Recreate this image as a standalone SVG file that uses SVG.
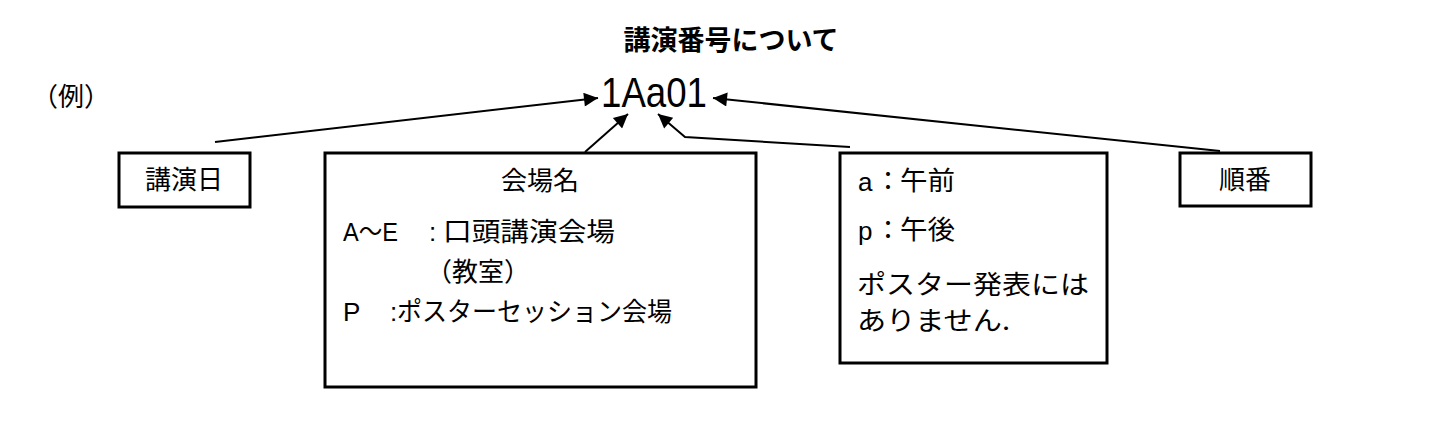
<svg xmlns="http://www.w3.org/2000/svg" width="1452" height="444" viewBox="0 0 1452 444">
  <style>
    .box { fill: #fff; stroke: #000; stroke-width: 3; }
    .jp { font-family: "Noto Sans CJK JP", sans-serif; font-size: 26px; fill: #000; }
    .en { font-family: "Liberation Sans", "Noto Sans CJK JP", sans-serif; font-size: 26px; fill: #000; }
    .conn { fill: none; stroke: #000; stroke-width: 2; }
  </style>
  <defs>
    <marker id="ah" viewBox="0 0 10 10" refX="10" refY="5" markerWidth="18" markerHeight="14" markerUnits="userSpaceOnUse" orient="auto">
      <path d="M0,0 L10,5 L0,10 z" fill="#000"/>
    </marker>
  </defs>
  <rect x="0" y="0" width="1452" height="444" fill="#fff"/>

  <text x="731" y="50" text-anchor="middle" class="jp" style="font-size:27px;font-weight:bold">講演番号について</text>
  <text x="32" y="106" class="jp">（例）</text>
  <text x="601" y="107" class="en" style="font-size:43px" textLength="106" lengthAdjust="spacingAndGlyphs">1Aa01</text>

  <g id="connectors">
    <path class="conn" d="M215,142 L598,98" marker-end="url(#ah)"/>
    <path class="conn" d="M585,152 L628,114" marker-end="url(#ah)"/>
    <path class="conn" d="M850,147 L685,137 L658,114" marker-end="url(#ah)"/>
    <path class="conn" d="M1220,151 L713,98" marker-end="url(#ah)"/>
  </g>

  <g id="node-date">
    <rect class="box" x="119" y="153" width="131" height="54"/>
    <text x="184" y="189" text-anchor="middle" class="jp">講演日</text>
  </g>

  <g id="node-venue">
    <rect class="box" x="325" y="153" width="431" height="234"/>
    <text x="540" y="190" text-anchor="middle" class="jp">会場名</text>
    <text x="343" y="241" class="en" textLength="55" lengthAdjust="spacingAndGlyphs">A～E</text>
    <text x="429" y="241" class="en">:</text>
    <text x="443" y="241" class="jp" textLength="172" lengthAdjust="spacingAndGlyphs">口頭講演会場</text>
    <text x="426" y="281" class="jp" textLength="104" lengthAdjust="spacingAndGlyphs">（教室）</text>
    <text x="343" y="321" class="en">P</text>
    <text x="390" y="321" class="en">:</text>
    <text x="397" y="321" class="jp" textLength="275" lengthAdjust="spacingAndGlyphs">ポスターセッション会場</text>
  </g>

  <g id="node-ampm">
    <rect class="box" x="840" y="153" width="267" height="210"/>
    <text x="858" y="191" class="en">a</text>
    <text x="875" y="190" class="jp">：</text>
    <text x="900" y="190" class="jp" textLength="55" lengthAdjust="spacingAndGlyphs">午前</text>
    <text x="858" y="240" class="en">p</text>
    <text x="875" y="239" class="jp">：</text>
    <text x="900" y="239" class="jp" textLength="55" lengthAdjust="spacingAndGlyphs">午後</text>
    <text x="857" y="294" class="jp" textLength="232" lengthAdjust="spacingAndGlyphs">ポスター発表には</text>
    <text x="857" y="330" class="jp" textLength="153" lengthAdjust="spacingAndGlyphs">ありません.</text>
  </g>

  <g id="node-order">
    <rect class="box" x="1180" y="153" width="131" height="53"/>
    <text x="1245" y="189" text-anchor="middle" class="jp">順番</text>
  </g>
</svg>
